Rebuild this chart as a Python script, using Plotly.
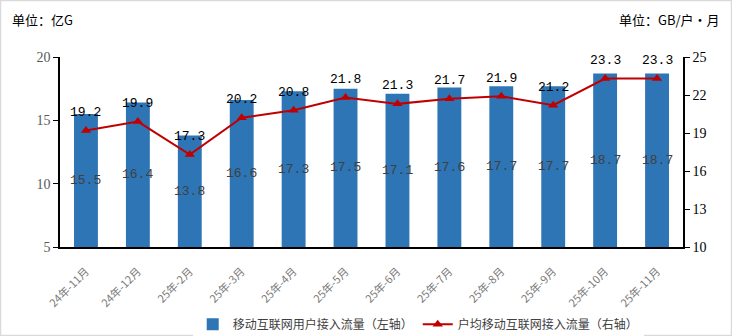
import plotly.graph_objects as go

categories = ["24年-11月", "24年-12月", "25年-2月", "25年-3月", "25年-4月", "25年-5月",
              "25年-6月", "25年-7月", "25年-8月", "25年-9月", "25年-10月", "25年-11月"]
total_traffic = [15.5, 16.4, 13.8, 16.6, 17.3, 17.5, 17.1, 17.6, 17.7, 17.7, 18.7, 18.7]
per_user = [19.2, 19.9, 17.3, 20.2, 20.8, 21.8, 21.3, 21.7, 21.9, 21.2, 23.3, 23.3]
left_ticks = [5, 10, 15, 20]
right_ticks = [10, 13, 16, 19, 22, 25]

num_font = "Liberation Mono, DejaVu Sans Mono, monospace"
cjk_font = "Noto Sans CJK SC, sans-serif"

fig = go.Figure()
fig.add_trace(go.Bar(
    x=categories, y=total_traffic, name="移动互联网用户接入流量（左轴）",
    marker=dict(color="#2E75B6", line=dict(width=0)),
    width=0.46, yaxis="y",
))
fig.add_trace(go.Scatter(
    x=categories, y=per_user, name="户均移动互联网接入流量（右轴）",
    mode="lines+markers",
    line=dict(color="#C00000", width=2),
    marker=dict(symbol="triangle-up", size=9, color="#C00000"),
    yaxis="y2",
))

annotations = []
ymin = left_ticks[0]
for c, v in zip(categories, total_traffic):
    annotations.append(dict(
        x=c, y=(ymin + v) / 2, xref="x", yref="y", text=f"{v:.1f}", showarrow=False,
        font=dict(family=num_font, size=13, color="#404040"),
        xanchor="center", yanchor="middle"))
for c, v in zip(categories, per_user):
    annotations.append(dict(
        x=c, y=v, xref="x", yref="y2", text=f"{v:.1f}", showarrow=False,
        font=dict(family=num_font, size=13, color="#000000"),
        xanchor="center", yanchor="middle", yshift=18))

annotations += [
    dict(text="单位：亿G", xref="paper", yref="paper", x=-50/623, y=1 + 38/190,
         xanchor="left", yanchor="middle", showarrow=False,
         font=dict(family=cjk_font, size=13, color="#000000")),
    dict(text="单位：GB/户·月", xref="paper", yref="paper", x=1 + 39/623, y=1 + 38/190,
         xanchor="right", yanchor="middle", showarrow=False,
         font=dict(family=cjk_font, size=13, color="#000000")),
]

fig.update_layout(
    width=732, height=336,
    margin=dict(l=60, r=49, t=57, b=89, autoexpand=False),
    paper_bgcolor="white", plot_bgcolor="white",
    showlegend=True,
    legend=dict(orientation="h", x=0.575, xanchor="center", y=-0.33, yanchor="top",
                font=dict(family=cjk_font, size=12, color="#404040"),
                traceorder="normal"),
    xaxis=dict(
        type="category", tickangle=-45, showgrid=False, automargin=False,
        showline=True, linecolor="black", linewidth=1.5,
        ticks="", ticklabelstandoff=12,
        tickfont=dict(family=cjk_font, size=11, color="#7a7a7a"),
        range=[-0.5, 11.5],
    ),
    yaxis=dict(
        range=[5, 20], tickvals=left_ticks, showgrid=False, automargin=False,
        showline=True, linecolor="black", linewidth=1.5,
        ticks="outside", ticklen=5, tickcolor="black",
        tickfont=dict(family="Liberation Serif, serif", size=14, color="#595959"),
        zeroline=False,
    ),
    yaxis2=dict(
        range=[10, 25], tickvals=right_ticks, overlaying="y", side="right",
        showgrid=False, showline=True, linecolor="black", linewidth=1.5, automargin=False,
        ticks="outside", ticklen=5, tickcolor="black",
        tickfont=dict(family="Liberation Serif, serif", size=14, color="#000000"),
        zeroline=False,
    ),
    annotations=annotations,
    shapes=[
        dict(type="rect", xref="paper", yref="paper",
             x0=-59.5/623, x1=1 + 48.5/623, y0=-88.5/190, y1=1 + 56.5/190,
             line=dict(color="#d9d9d9", width=1.5), fillcolor="rgba(0,0,0,0)", layer="below"),
    ],
)

fig.write_html("out.html")
